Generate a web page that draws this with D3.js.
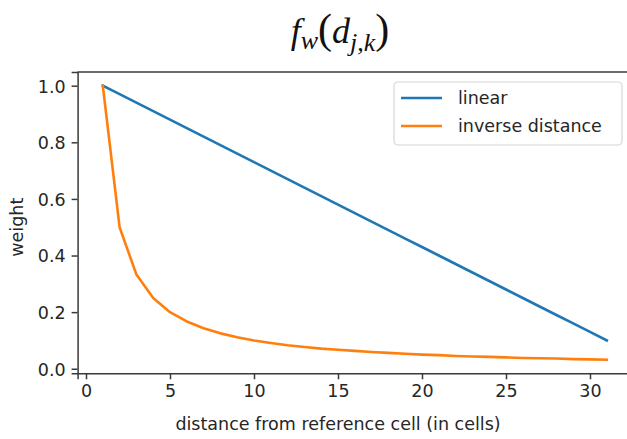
<!DOCTYPE html>
<html>
<head>
<meta charset="UTF-8" />
<script src="https://d3js.org/d3.v7.min.js"></script>
<style>
    body { margin: 0; background: #fff; }
    svg { display: block; font-family: "DejaVu Sans", sans-serif; }
</style>
</head>
<body>
<div id="chart"></div>
<script>
    // distance in cells
    const distances = d3.range(1, 32);
    const linear = [1.00, 0.97, 0.94, 0.91, 0.88, 0.85, 0.82, 0.79, 0.76, 0.73, 0.70,
        0.67, 0.64, 0.61, 0.58, 0.55, 0.52, 0.49, 0.46, 0.43, 0.40,
        0.37, 0.34, 0.31, 0.28, 0.25, 0.22, 0.19, 0.16, 0.13, 0.10];
    const inverse = [1.000, 0.500, 0.333, 0.250, 0.200, 0.167, 0.143, 0.125, 0.111, 0.100,
        0.091, 0.083, 0.077, 0.071, 0.067, 0.063, 0.059, 0.056, 0.053, 0.050,
        0.048, 0.045, 0.043, 0.042, 0.040, 0.038, 0.037, 0.036, 0.034, 0.033, 0.032];
    const xTicks = [0, 5, 10, 15, 20, 25, 30];
    const yTicks = [0.0, 0.2, 0.4, 0.6, 0.8, 1.0];
    const seriesNames = ["linear", "inverse distance"];
    const colors = ["#1f77b4", "#ff7f0e"];

    const W = 627, H = 439;
    const svg = d3.select("#chart").append("svg")
        .attr("width", W).attr("height", H);

    const x = d3.scaleLinear().domain([-0.5, 32.5]).range([77.6, 632]);
    const y = d3.scaleLinear().domain([-0.0161, 1.0484]).range([373.3, 72]);

    const textColor = "#262626";
    const fs = 17.5;

    // title
    const title = svg.append("text")
        .attr("x", 340).attr("y", 43)
        .attr("text-anchor", "middle")
        .style("font-family", "'Liberation Serif', serif")
        .style("font-style", "italic")
        .style("font-size", "36px")
        .attr("fill", "#111");
    title.append("tspan").text("f");
    title.append("tspan").attr("dy", 6).style("font-size", "26px").text("w");
    title.append("tspan").attr("dy", -6).style("font-style", "normal").style("font-size", "42px").text("(");
    title.append("tspan").text("d");
    title.append("tspan").attr("dy", 8).style("font-size", "26px").text("j,k");
    title.append("tspan").attr("dy", -8).style("font-style", "normal").style("font-size", "42px").text(")");

    // lines
    const line = d3.line().x(d => x(d[0])).y(d => y(d[1]));
    [linear, inverse].forEach((vals, i) => {
        svg.append("path")
            .datum(distances.map((d, j) => [d, vals[j]]))
            .attr("fill", "none")
            .attr("stroke", colors[i])
            .attr("stroke-width", 2.6)
            .attr("stroke-linejoin", "round")
            .attr("stroke-linecap", "square")
            .attr("d", line);
    });

    // axes
    const xAxis = svg.append("g")
        .attr("transform", `translate(0,${y.range()[0]})`)
        .call(d3.axisBottom(x).tickValues(xTicks).tickFormat(d3.format("d")).tickSize(6).tickPadding(5));
    const yAxis = svg.append("g")
        .attr("transform", `translate(${x.range()[0]},0)`)
        .call(d3.axisLeft(y).tickValues(yTicks).tickFormat(d3.format(".1f")).tickSize(6).tickPadding(6));

    [xAxis, yAxis].forEach(g => {
        g.select(".domain").attr("stroke", "#3a3a3a").attr("stroke-width", 1.5);
        g.selectAll(".tick line").attr("stroke", "#3a3a3a").attr("stroke-width", 1.5);
        g.selectAll(".tick text")
            .attr("fill", textColor)
            .style("font-family", "'DejaVu Sans', sans-serif")
            .style("font-size", fs + "px");
    });
    yAxis.selectAll(".tick text").attr("dy", "0.36em");

    // top spine
    svg.append("line")
        .attr("x1", x.range()[0]).attr("x2", x.range()[1])
        .attr("y1", y.range()[1]).attr("y2", y.range()[1])
        .attr("stroke", "#3a3a3a").attr("stroke-width", 1.5);

    // axis labels
    svg.append("text")
        .attr("x", 338).attr("y", 430)
        .attr("text-anchor", "middle")
        .attr("fill", textColor)
        .style("font-size", fs + "px")
        .text("distance from reference cell (in cells)");

    svg.append("text")
        .attr("transform", `translate(23,${y(0.5)}) rotate(-90)`)
        .attr("text-anchor", "middle")
        .attr("fill", textColor)
        .style("font-size", fs + "px")
        .text("weight");

    // legend
    const legend = svg.append("g").attr("transform", "translate(394,82)");
    legend.append("rect")
        .attr("width", 228).attr("height", 63)
        .attr("rx", 4)
        .attr("fill", "#fff").attr("fill-opacity", 0.8)
        .attr("stroke", "#d6d6d6").attr("stroke-width", 1.2);
    seriesNames.forEach((name, i) => {
        const g = legend.append("g").attr("transform", `translate(0,${16 + i * 28})`);
        g.append("line")
            .attr("x1", 7).attr("x2", 48)
            .attr("stroke", colors[i]).attr("stroke-width", 2.6);
        g.append("text")
            .attr("x", 64).attr("y", 6)
            .attr("fill", textColor)
            .style("font-size", fs + "px")
            .text(name);
    });
</script>
</body>
</html>
